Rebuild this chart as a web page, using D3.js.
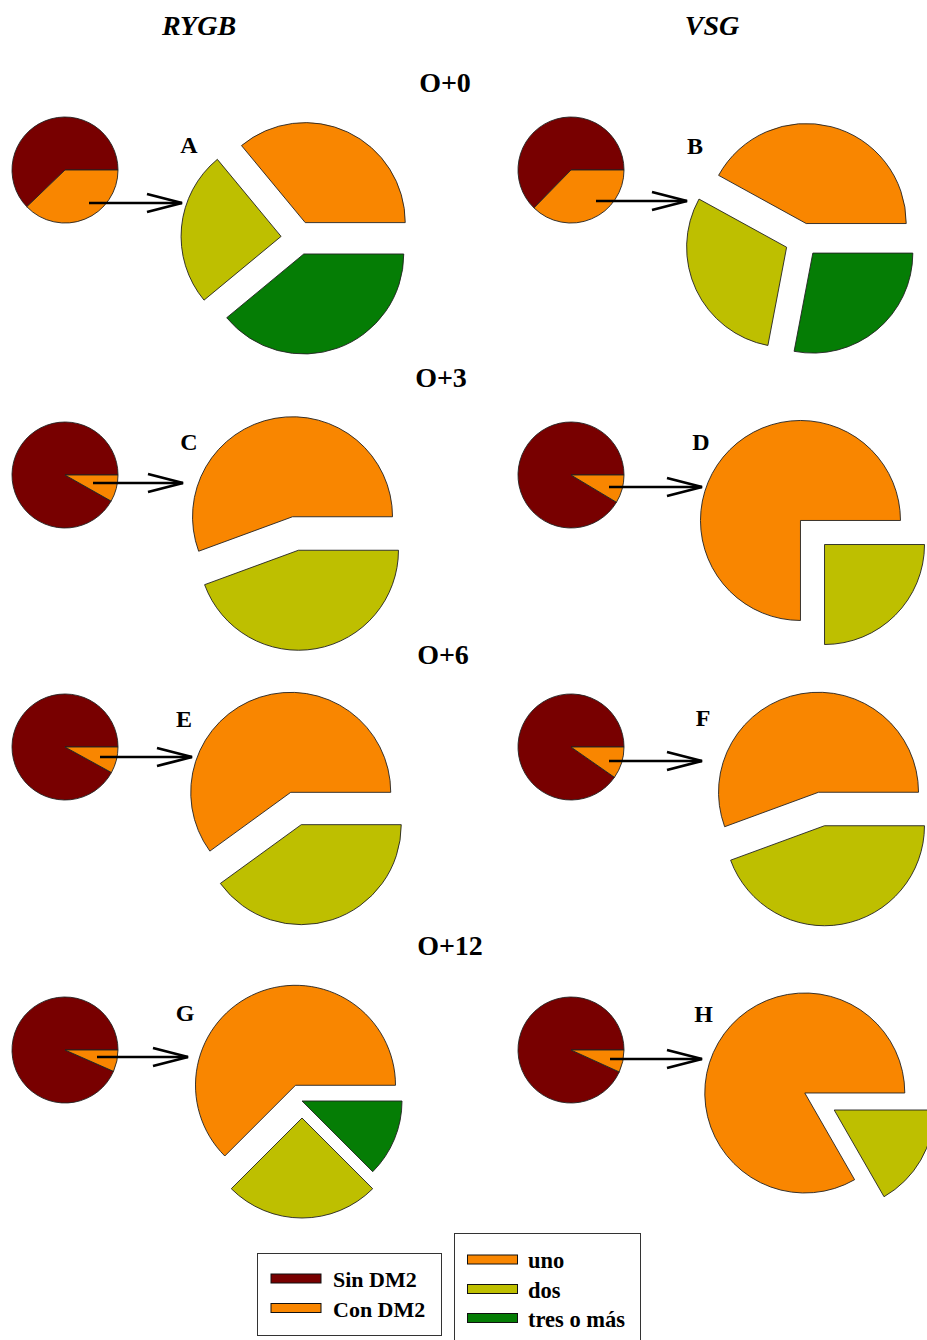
<!DOCTYPE html>
<html>
<head>
<meta charset="utf-8">
<script src="https://cdn.jsdelivr.net/npm/d3@7"></script>
<style>
  html, body { margin: 0; padding: 0; background: #fff; }
  svg { display: block; }
  text { font-family: "Liberation Serif", "Times New Roman", serif; font-weight: bold; fill: #000; }
</style>
</head>
<body>
<script>
// ---------------- DATA ----------------
const panelIds   = ["A", "B", "C", "D", "E", "F", "G", "H"];
const columnTitles = ["RYGB", "VSG"];
const rowTitles    = ["O+0", "O+3", "O+6", "O+12"];

// small pies: share of patients without / with DM2
const dmCategories = ["Sin DM2", "Con DM2"];
const sinDM2 = [0.622, 0.627, 0.918, 0.914, 0.920, 0.903, 0.934, 0.932];
const conDM2 = [0.378, 0.373, 0.082, 0.086, 0.080, 0.097, 0.066, 0.068];

// big exploded pies: number of drugs among patients with DM2
const drugCategories = ["uno", "dos", "tres o más"];
const uno  = [0.36, 0.42, 0.556, 0.75, 0.60, 0.556, 0.625, 0.833];
const dos  = [0.25, 0.30, 0.444, 0.25, 0.40, 0.444, 0.25,  0.167];
const tres = [0.39, 0.28, 0,     0,    0,    0,     0.125, 0];

// ---------------- STYLE / LAYOUT ----------------
const dmColors   = ["#780000", "#F98600"];
const drugColors = ["#F98600", "#BEBF00", "#057D05"];
const W = 927, H = 1340;
const rSmall = 53, rBig = 100, explodeDist = 17;

const layout = {
  A: {sc: [65, 170],  bc: [298, 238],     arrow: [89, 182, 203],   letter: [189, 153], explode: [1, 1, 1]},
  B: {sc: [571, 170], bc: [802, 240],     arrow: [596, 687, 201],  letter: [695, 154], explode: [1, 1, 1]},
  C: {sc: [65, 475],  bc: [295.5, 533.5], arrow: [93, 183, 483],   letter: [189, 450], explode: [1, 1, 1]},
  D: {sc: [571, 475], bc: [812.5, 532.5], arrow: [609, 702, 487],  letter: [701, 450], explode: [1, 1, 1]},
  E: {sc: [65, 747],  bc: [296, 808.5],   arrow: [100, 192, 757],  letter: [184, 727], explode: [1, 1, 1]},
  F: {sc: [571, 747], bc: [821.5, 809],   arrow: [609, 702, 761],  letter: [703, 726], explode: [1, 1, 1]},
  G: {sc: [65, 1050], bc: [302, 1101],    arrow: [97, 188, 1057],  letter: [185, 1021], explode: [1, 1, 0]},
  H: {sc: [571, 1050],bc: [819.5, 1101.5],arrow: [610, 702, 1059], letter: [703.5, 1022], explode: [1, 1, 1]}
};
const colTitlePos = [[199, 35], [712, 35]];
const rowTitlePos = [[445, 92], [441, 387], [443, 664], [450, 955]];

// ---------------- DRAW ----------------
const svg = d3.select("body").append("svg")
  .attr("width", W).attr("height", H).attr("viewBox", `0 0 ${W} ${H}`);

// R-style pie: starts at 3 o'clock, goes counter-clockwise
const pie = d3.pie().sort(null).value(d => d.value)
  .startAngle(Math.PI / 2).endAngle(Math.PI / 2 - 2 * Math.PI);

const arcSmall = d3.arc().innerRadius(0).outerRadius(rSmall);
const arcBig   = d3.arc().innerRadius(0).outerRadius(rBig);

svg.selectAll("text.coltitle").data(columnTitles).join("text")
  .attr("class", "coltitle")
  .attr("x", (d, i) => colTitlePos[i][0]).attr("y", (d, i) => colTitlePos[i][1])
  .attr("text-anchor", "middle").style("font-style", "italic").style("font-size", "28px")
  .text(d => d);

svg.selectAll("text.rowtitle").data(rowTitles).join("text")
  .attr("class", "rowtitle")
  .attr("x", (d, i) => rowTitlePos[i][0]).attr("y", (d, i) => rowTitlePos[i][1])
  .attr("text-anchor", "middle").style("font-size", "28px")
  .text(d => d);

panelIds.forEach((id, i) => {
  const L = layout[id];
  const g = svg.append("g").attr("class", "panel-" + id);

  // small pie
  const smallData = dmCategories.map((c, k) => ({cat: c, value: [sinDM2, conDM2][k][i], color: dmColors[k]}));
  g.append("g").attr("transform", `translate(${L.sc[0]},${L.sc[1]})`)
    .selectAll("path").data(pie(smallData)).join("path")
    .attr("d", arcSmall)
    .attr("fill", d => d.data.color)
    .attr("stroke", "#222").attr("stroke-width", 0.9).attr("stroke-linejoin", "round");

  // arrow
  const [x0, x1, ay] = L.arrow;
  g.append("line").attr("x1", x0).attr("y1", ay).attr("x2", x1).attr("y2", ay)
    .attr("stroke", "#000").attr("stroke-width", 2.6);
  g.append("path")
    .attr("d", `M${x1 - 35},${ay - 9}L${x1},${ay}L${x1 - 35},${ay + 9}`)
    .attr("fill", "none").attr("stroke", "#000").attr("stroke-width", 2.8)
    .attr("stroke-linejoin", "miter");

  // letter
  g.append("text").attr("x", L.letter[0]).attr("y", L.letter[1])
    .attr("text-anchor", "middle").style("font-size", "24px").text(id);

  // big exploded pie
  const bigData = drugCategories.map((c, k) => ({cat: c, value: [uno, dos, tres][k][i], color: drugColors[k], explode: L.explode[k]}))
    .filter(d => d.value > 0);
  g.append("g").attr("transform", `translate(${L.bc[0]},${L.bc[1]})`)
    .selectAll("path").data(pie(bigData)).join("path")
    .attr("d", arcBig)
    .attr("transform", d => {
      const a = (d.startAngle + d.endAngle) / 2;
      const e = explodeDist * d.data.explode;
      return `translate(${Math.sin(a) * e},${-Math.cos(a) * e})`;
    })
    .attr("fill", d => d.data.color)
    .attr("stroke", "#222").attr("stroke-width", 0.9).attr("stroke-linejoin", "round");
});

// legends
function legend(x, y, w, h, items, colors, rowY, fontSize, swX, textX) {
  const lg = svg.append("g");
  lg.append("rect").attr("x", x).attr("y", y).attr("width", w).attr("height", h)
    .attr("fill", "#fff").attr("stroke", "#333").attr("stroke-width", 1);
  items.forEach((t, k) => {
    lg.append("rect").attr("x", swX).attr("y", rowY[k] - 5).attr("width", 50).attr("height", 9)
      .attr("fill", colors[k]).attr("stroke", "#111").attr("stroke-width", 1);
    lg.append("text").attr("x", textX).attr("y", rowY[k] + 8).style("font-size", fontSize + "px").text(t);
  });
}
legend(257.5, 1253.5, 184, 82, dmCategories, dmColors, [1279, 1308.5], 22, 271, 333);
legend(454.5, 1233.5, 186, 120, drugCategories, drugColors, [1260, 1289.5, 1318.5], 22.5, 467.5, 528);
</script>
</body>
</html>
